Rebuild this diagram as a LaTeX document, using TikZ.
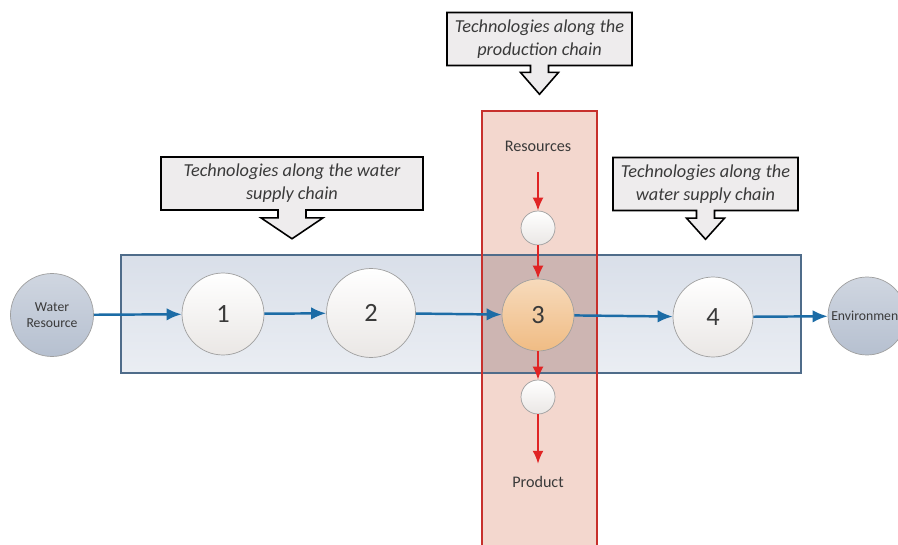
\documentclass[tikz,border=0pt]{standalone}
\usepackage{fontspec}
\setmainfont{Carlito}
\usepackage{xcolor}
\usetikzlibrary{arrows.meta,shapes.arrows}
\definecolor{flowblue}{HTML}{1C6CA6}
\definecolor{prodred}{HTML}{E02424}
\definecolor{chainfill}{HTML}{D9DFE9}
\definecolor{chainline}{HTML}{4F6C8A}
\definecolor{prodfill}{HTML}{F3D7CE}
\definecolor{prodline}{HTML}{C7302C}
\definecolor{overlap}{HTML}{CDB5B2}
\definecolor{techgray}{HTML}{EAE7E5}
\definecolor{extblue}{HTML}{B6C0D0}
\definecolor{hotfill}{HTML}{F0BC84}
\definecolor{boxgray}{HTML}{EEECED}
\definecolor{textgray}{HTML}{3A3A3A}
\begin{document}
\begin{tikzpicture}[x=0.02cm,y=-0.02cm,thick]
\tikzstyle{tech}=[circle,draw=gray!75,thin,top color=white,bottom color=techgray,minimum size=1.64cm,font=\fontsize{15}{17}\selectfont,text=textgray]
\tikzstyle{ext}=[circle,draw=gray!75,thin,top color=extblue!65,bottom color=extblue,minimum size=1.66cm,inner sep=0pt,align=center,font=\fontsize{7.8}{9.5}\selectfont,text=textgray]
\tikzstyle{port}=[circle,draw=gray!75,thin,top color=white,bottom color=techgray,minimum size=0.68cm]
\tikzstyle{plaintext}=[font=\fontsize{9.2}{11}\selectfont,text=textgray]
\tikzstyle{techbox}=[arrow box,draw=black,line width=0.9pt,fill=boxgray,align=center,minimum height=1.06cm,font=\fontsize{10.4}{13}\selectfont\itshape,text=textgray,arrow box arrows={south:0.56cm},arrow box shaft width=0.36cm,arrow box head extend=0.2cm,arrow box tip angle=84]
\tikzstyle{water}=[-{Latex[length=0.3cm,width=0.25cm]},flowblue,line width=1.4pt]
\tikzstyle{prod}=[-{Latex[length=0.26cm,width=0.22cm]},prodred,line width=1.1pt]
\useasboundingbox(0,0)rectangle(898,544);
% chains
\shade[top color=chainfill,bottom color=chainfill!55!white](121,255)rectangle(801,373);
\fill[prodfill](482,111)rectangle(597,560);
\fill[overlap](482,255)rectangle(597,373);
\draw[chainline,line width=1.4pt](121,255)rectangle(801,373);
\draw[prodline,line width=1.6pt](482,111)rectangle(597,560);
% water supply chain
\node(source)at(52,315)[ext]{Water\\Resource};
\node(t1)at(223,314)[tech]{1};
\node(t2)at(371,313)[tech,minimum size=1.78cm]{2};
\node(t3)at(538,315)[tech,top color=hotfill!55!white,bottom color=hotfill,minimum size=1.44cm]{3};
\node(t4)at(713,317)[tech,minimum size=1.6cm]{4};
\node(env)at(867,316)[ext,minimum size=1.56cm]{Environment};
% production chain
\node(res)at(538,146)[plaintext]{Resources};
\node(p-in)at(538,228)[port]{};
\node(p-out)at(538,397)[port]{};
\node(product)at(538,482)[plaintext]{Product};
\draw[water](source)--(t1);
\draw[water](t1)--(t2);
\draw[water](t2)--(t3);
\draw[water](t3)--(t4);
\draw[water](t4)--(env);
\draw[prod,shorten <=0.28cm](res)--(p-in);
\draw[prod](p-in)--(t3);
\draw[prod](t3)--(p-out);
\draw[prod,shorten >=0.12cm](p-out)--(product);
% callouts
\node(along-left)at(292,183.5)[techbox,minimum width=5.24cm,arrow box shaft width=0.56cm,arrow box head extend=0.34cm,arrow box tip angle=112]{Technologies along the water\\supply chain};
\node(along-prod)at(539.5,39)[techbox,minimum width=3.7cm,arrow box tip angle=82]{Technologies along the\\production chain};
\node(along-right)at(705.5,184)[techbox,minimum width=3.7cm]{Technologies along the\\water supply chain};
\end{tikzpicture}
\end{document}
